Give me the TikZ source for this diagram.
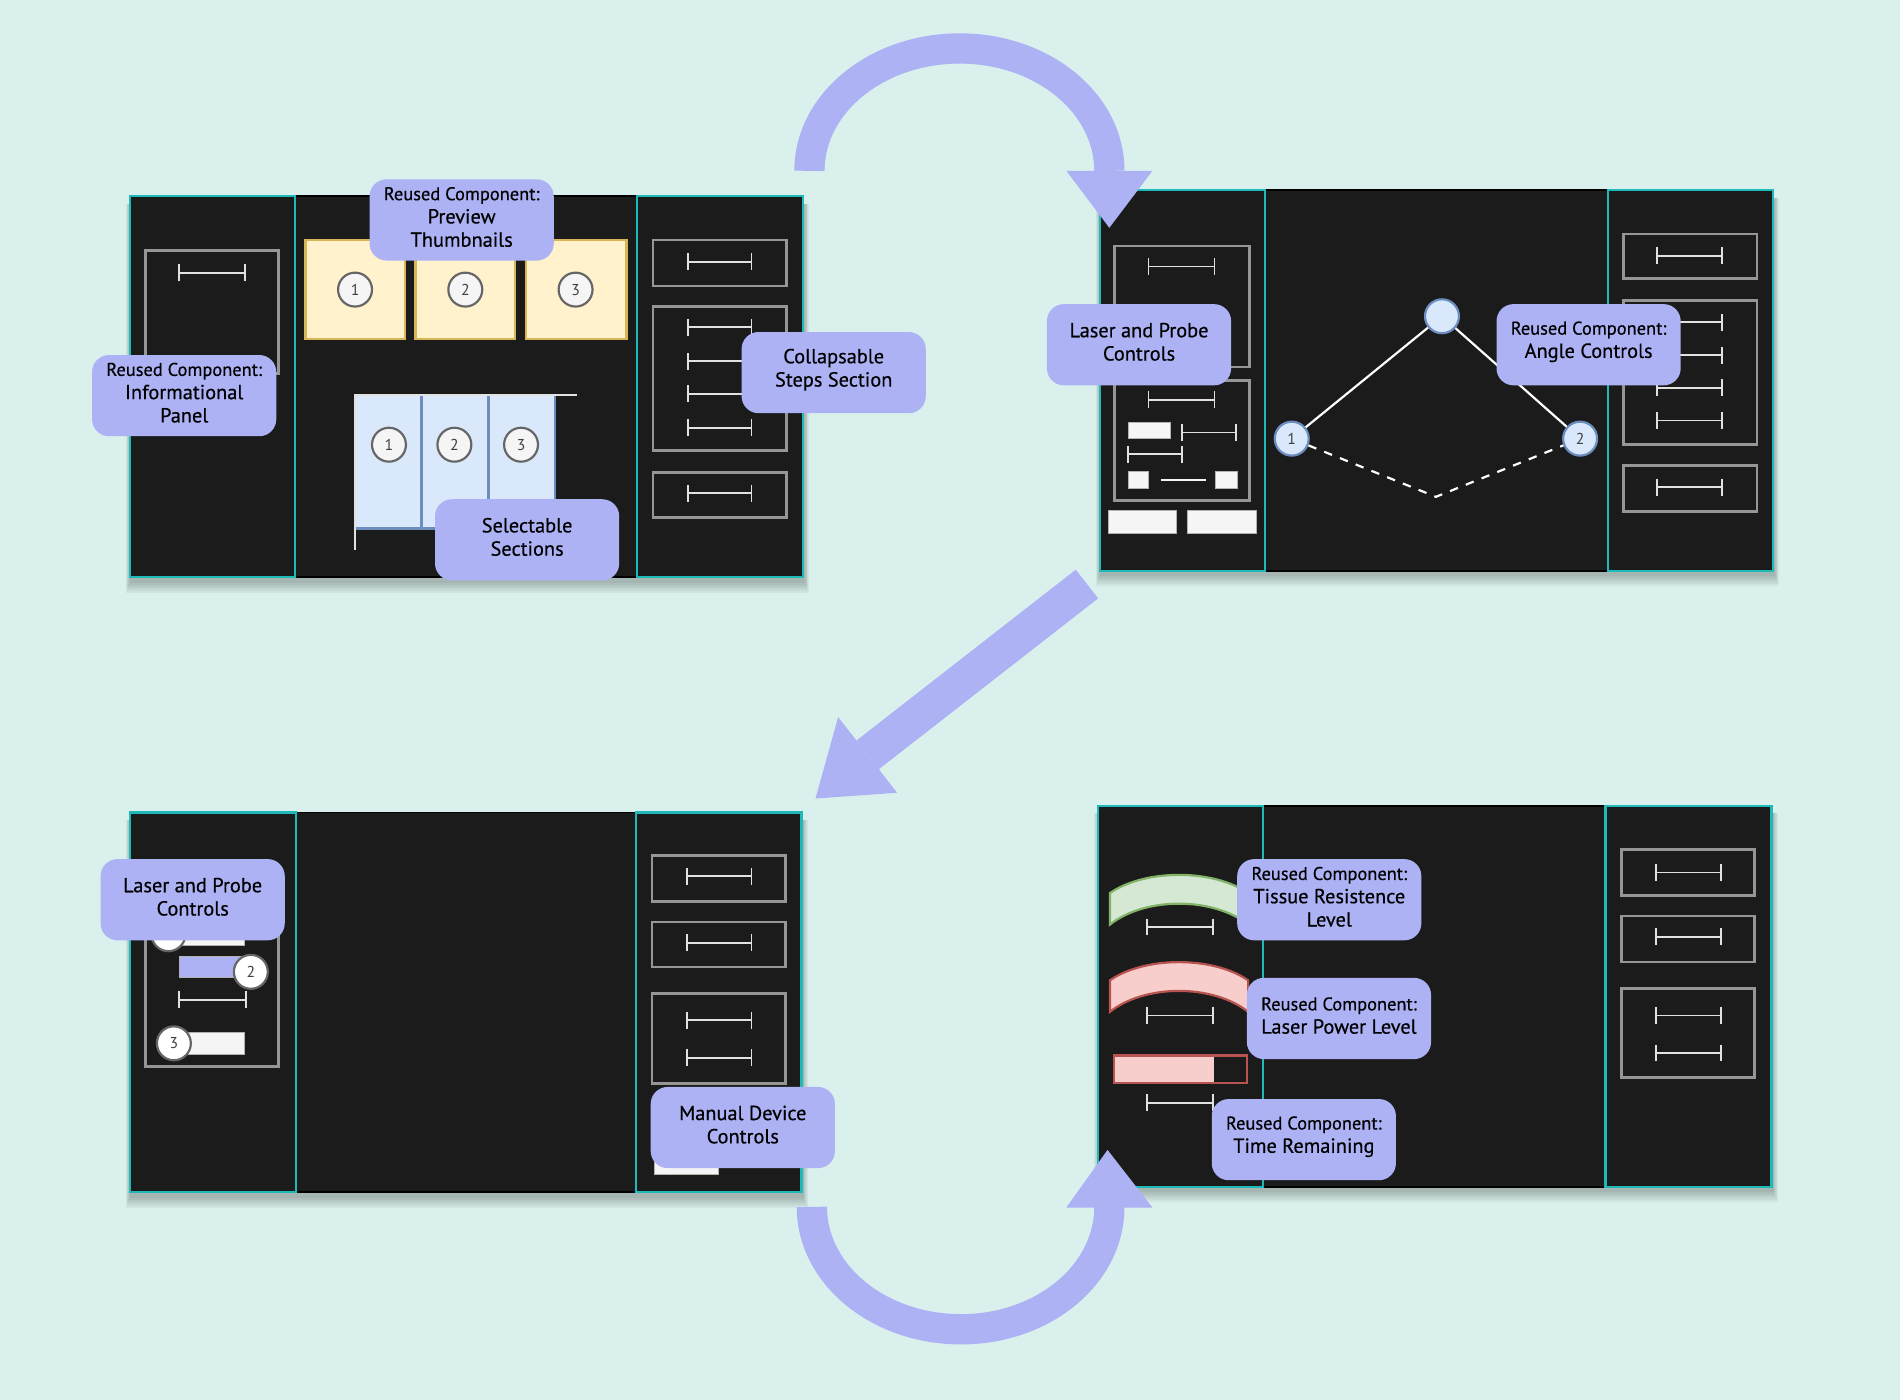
\documentclass[tikz,border=0pt]{standalone}
\usepackage{fontspec}
\setmainfont{PT Sans}
\newfontfamily\lblfont[FakeBold=0.45]{PT Sans}
\usetikzlibrary{arrows.meta}
\definecolor{bgc}{RGB}{217,240,236}
\definecolor{lblc}{RGB}{173,178,245}
\definecolor{panelc}{RGB}{27,27,27}
\definecolor{sidec}{RGB}{30,185,185}
\definecolor{outl}{RGB}{150,150,150}
\definecolor{dimc}{RGB}{225,225,225}
\definecolor{yfill}{HTML}{FFF2CC}
\definecolor{ystroke}{HTML}{D6B656}
\definecolor{bfill}{HTML}{DAE8FC}
\definecolor{bstroke}{HTML}{6C8EBF}
\definecolor{cfill}{HTML}{F5F5F5}
\definecolor{cstroke}{HTML}{666666}
\definecolor{gfill}{HTML}{D5E8D4}
\definecolor{gstroke}{HTML}{82B366}
\definecolor{rfill}{HTML}{F8CECC}
\definecolor{rstroke}{HTML}{B85450}
\newcommand\reusedline{{\fontsize{7.6}{9.6}\selectfont Reused Component:}}
\newcommand\mockpanel[6]{%
  \foreach \s in {1,...,6}{\fill[black,opacity=0.045] (#1+1-0.7*\s,#2+6) rectangle (#3+1+0.7*\s,#4+3+1.6*\s);}
  \fill[panelc] (#1,#2) rectangle (#3,#4);
  \draw[black,line width=0.8pt] (#1,#2) rectangle (#3,#4);
  \draw[sidec,line width=0.9pt] (#1,#2) rectangle (#5,#4);
  \draw[sidec,line width=0.9pt] (#6,#2) rectangle (#3,#4);
}
\newcommand\arcband[2]{% style, top-left y
  \draw[#1] (916,#2) .. controls (945,#2-20) and (1001,#2-20) .. (1030,#2)
    -- (1030,#2+26) .. controls (1001,#2+3) and (945,#2+3) .. (916,#2+26) -- cycle;
}
% label: name, position, text
\newcommand\callout[3]{%
  \node[lblbox] (#1) at (#2) {};
  \node[lbltext] (#1-t) at ([yshift=1.2pt]#1.center) {#3};
}
\begin{document}
\begin{tikzpicture}[x=0.5pt,y=-0.5pt,
  lblbox/.style={fill=lblc, rounded corners=7pt, minimum width=76pt, minimum height=33.5pt, inner sep=0pt},
  lbltext/.style={align=center, inner sep=0pt, font=\lblfont\fontsize{8.4}{9.6}\selectfont, text=black},
  box/.style={draw=outl, line width=1.1pt},
  dimln/.style={draw=dimc, line width=0.75pt, {Bar[width=7pt]}-{Bar[width=7pt]}},
  thumb/.style={draw=ystroke, fill=yfill, line width=1pt},
  sect/.style={draw=bstroke, fill=bfill, line width=1pt},
  numc/.style={circle, draw=cstroke, fill=cfill, line width=0.9pt, minimum size=14pt,
    inner sep=0pt, font=\fontsize{6.5}{7}\selectfont, text=black!75},
  bcirc/.style={numc, draw=bstroke, fill=bfill},
  wbox/.style={fill=cfill, draw=gray!60, line width=0.4pt},
  bigarrow/.style={draw=lblc, line width=12.5pt},
  ahead/.style={fill=lblc}]
\useasboundingbox (0,0) rectangle (1568,1155);
\fill[bgc] (0,0) rectangle (1568,1155);

% ---------------- panel 1
\mockpanel{107}{162}{662.5}{476.5}{243.5}{526}
\draw[box] (120,207) rectangle (230,308);
\draw[dimln] (147,225) -- (203,225);
\draw[thumb] (252,198) rectangle (334,280);
\draw[thumb] (343,198) rectangle (425,280);
\draw[thumb] (434,198) rectangle (517,280);
\node[numc] (t1) at (293,239) {1};
\node[numc] (t2) at (384,239) {2};
\node[numc] (t3) at (475,239) {3};
\draw[sect] (293,326) rectangle (348,436);
\draw[sect] (348,326) rectangle (403,436);
\draw[sect] (403,326) rectangle (458,436);
\draw[dimc,line width=1.1pt] (293,454) -- (293,326) -- (476,326);
\node[numc] (c1) at (321,367) {1};
\node[numc] (c2) at (375,367) {2};
\node[numc] (c3) at (430,367) {3};
\draw[box] (539,198) rectangle (649,236);
\draw[dimln] (567,216) -- (621,216);
\draw[box] (539,253) rectangle (649,372);
\draw[dimln] (567,270) -- (621,270);
\draw[dimln] (567,298) -- (621,298);
\draw[dimln] (567,325) -- (621,325);
\draw[dimln] (567,353) -- (621,353);
\draw[box] (539,390) rectangle (649,427);
\draw[dimln] (567,407) -- (621,407);

% ---------------- panel 2
\mockpanel{907.5}{157}{1463}{471}{1044}{1327}
\draw[box] (920,203) rectangle (1031,303);
\draw[dimln] (947,220) -- (1003,220);
\draw[box] (920,314) rectangle (1031,413);
\draw[dimln] (947,330) -- (1003,330);
\draw[wbox] (931,349) rectangle (966,362);
\draw[dimln] (975,357) -- (1021,357);
\draw[dimln] (930,375) -- (976,375);
\draw[wbox] (931,389) rectangle (948,403);
\draw[wbox] (1003,389) rectangle (1021,403);
\draw[cfill,line width=1pt] (958,396) -- (995,396);
\draw[wbox] (915,421) rectangle (971,440);
\draw[wbox] (980,421) rectangle (1037,440);
\node[bcirc] (ang0) at (1190,261) {};
\node[bcirc] (ang1) at (1066,362) {1};
\node[bcirc] (ang2) at (1304,362) {2};
\coordinate (angv) at (1185,410);
\draw[white,line width=0.9pt] (ang1) -- (ang0) -- (ang2);
\draw[white,line width=0.9pt,dash pattern=on 3.5pt off 3.5pt] (ang1) -- (angv) -- (ang2);
\draw[box] (1340,193) rectangle (1450,230);
\draw[dimln] (1367,211) -- (1422,211);
\draw[box] (1340,248) rectangle (1450,367);
\draw[dimln] (1367,266) -- (1422,266);
\draw[dimln] (1367,293) -- (1422,293);
\draw[dimln] (1367,320) -- (1422,320);
\draw[dimln] (1367,347) -- (1422,347);
\draw[box] (1340,384) rectangle (1450,422);
\draw[dimln] (1367,402) -- (1422,402);

% ---------------- panel 3
\mockpanel{107}{670.5}{661.5}{984}{244}{525}
\draw[box] (120,716) rectangle (230,880);
\draw[wbox] (150,762) rectangle (202,780);
\node[numc,fill=white] (s1) at (139,771) {1};
\draw[fill=lblc,draw=gray!60,line width=0.4pt] (148,789) rectangle (204,807);
\node[numc,fill=white] (s2) at (207,802) {2};
\draw[dimln] (147,825) -- (204,825);
\draw[wbox] (143,852) rectangle (202,870);
\node[numc,fill=white] (s3) at (143.5,861) {3};
\draw[box] (538,706) rectangle (648,744);
\draw[dimln] (566,723) -- (621,723);
\draw[box] (538,761) rectangle (648,798);
\draw[dimln] (566,778) -- (621,778);
\draw[box] (538,820) rectangle (648,894);
\draw[dimln] (566,842) -- (621,842);
\draw[dimln] (566,873) -- (621,873);
\draw[wbox] (540,948) rectangle (593,969);

% ---------------- panel 4
\mockpanel{906}{665}{1462}{979.5}{1042.5}{1325}
\arcband{fill=gfill,draw=gstroke,line width=0.9pt}{737}
\draw[dimln] (946,765) -- (1002,765);
\arcband{fill=rfill,draw=rstroke,line width=0.9pt}{809}
\draw[dimln] (946,838) -- (1002,838);
\fill[rfill] (919,871) rectangle (1002,894);
\draw[rstroke,line width=0.9pt] (919,871) rectangle (1029,894);
\draw[dimln] (946,910) -- (1002,910);
\draw[box] (1338,701) rectangle (1448,739);
\draw[dimln] (1366,720) -- (1421,720);
\draw[box] (1338,756) rectangle (1448,794);
\draw[dimln] (1366,773) -- (1421,773);
\draw[box] (1338,816) rectangle (1448,889);
\draw[dimln] (1366,838) -- (1421,838);
\draw[dimln] (1366,869) -- (1421,869);

% ---------------- big arrows
\coordinate (a1s) at (668,141);
\coordinate (a1m) at (792,40);
\coordinate (a1e) at (915.5,141);
\draw[bigarrow] (a1s) .. controls (668,85.2) and (723.5,40) .. (a1m)
  .. controls (860.5,40) and (915.5,85.2) .. (a1e);
\fill[ahead] (880,141) -- (951,141) -- (915.5,188) -- cycle;

\coordinate (a2s) at (897,482);
\coordinate (a2e) at (716,623);
\draw[bigarrow,line width=15pt] (a2s) -- (a2e);
\fill[ahead] (691.7,591.8) -- (740.3,654.2) -- (673,659) -- cycle;

\coordinate (a3s) at (670,996);
\coordinate (a3m) at (793,1097);
\coordinate (a3e) at (915.5,996);
\draw[bigarrow] (a3s) .. controls (670,1051.8) and (725.1,1097) .. (a3m)
  .. controls (860.9,1097) and (915.5,1051.8) .. (a3e);
\fill[ahead] (880,996.5) -- (951,996.5) -- (914,949) -- cycle;

% ---------------- labels
\callout{lInfo}{152,326.5}{\reusedline\\Informational\\Panel}
\callout{lPrev}{381,181.5}{\reusedline\\Preview\\Thumbnails}
\callout{lColl}{688,307.5}{Collapsable\\Steps Section}
\callout{lSel}{435,445.5}{Selectable\\Sections}
\callout{lLaserA}{940,284.5}{Laser and Probe\\Controls}
\callout{lAngle}{1311,284.5}{\reusedline\\Angle Controls}
\callout{lLaserB}{159,742.5}{Laser and Probe\\Controls}
\callout{lManual}{613,930.5}{Manual Device\\Controls}
\callout{lTissue}{1097,742.5}{\reusedline\\Tissue Resistence\\Level}
\callout{lPower}{1105,840.5}{\reusedline\\Laser Power Level}
\callout{lTime}{1076,940.5}{\reusedline\\Time Remaining}
\end{tikzpicture}
\end{document}
